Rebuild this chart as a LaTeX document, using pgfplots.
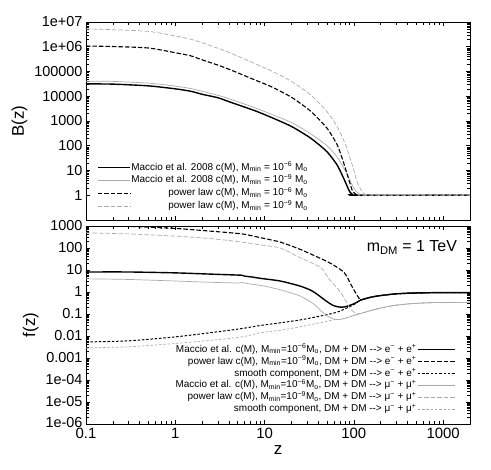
\documentclass[border=0pt]{standalone}
\usepackage{fontspec}
\setmainfont{Liberation Sans}
\usepackage{pgfplots}
\pgfplotsset{compat=1.18}

\definecolor{lgray}{RGB}{170,170,170}
\newcommand{\arr}{-\kern0pt-\kern0pt>}
\newcommand{\Mmin}{M\textsubscript{min}}

\pgfplotsset{
  panel/.style={
    scale only axis, width=384bp, height=198bp,
    xmin=0.1, xmax=2000,
    xtick={0.1,1,10,100,1000},
    /pgf/number format/assume math mode=true,
    tick label style={font=\fontsize{15}{15}\selectfont},
    yticklabel style={font=\fontsize{14.5}{14.5}\selectfont},
    xticklabel style={yshift=-1pt},
    label style={font=\fontsize{17}{17}\selectfont},
    axis line style={line width=0.8pt},
    every tick/.style={black, line width=0.6pt},
    legend style={draw=none, fill=none, font=\fontsize{10}{10}\selectfont,
      nodes={inner sep=0.5pt, text height=8pt, text depth=2.5pt}},
    legend cell align=right,
  },
  msol/.style={black, line width=1.4pt, smooth, tension=0.4},
  gsol/.style={lgray, line width=0.7pt, smooth, tension=0.4},
  mdash/.style={black, line width=1.1pt, dash pattern=on 4.5bp off 2bp, smooth, tension=0.4},
  gdash/.style={lgray, line width=0.7pt, dash pattern=on 4.5bp off 2bp, smooth, tension=0.4},
  mdot/.style={black, line width=1pt, dash pattern=on 2.5bp off 1.8bp, smooth, tension=0.4},
  gdot/.style={lgray, line width=0.7pt, dash pattern=on 2.5bp off 1.8bp, smooth, tension=0.4},
}

\begin{document}
\begin{tikzpicture}

% upper panel: B(z)
\begin{loglogaxis}[panel, name=top, at={(0,0)}, anchor=north west,
  ymin=0.1, ymax=1e7,
  ytick={1,10,100,1000,10000,100000,1e6,1e7},
  yticklabels={1,10,100,1000,10000,100000,1e+06,1e+07},
  xticklabels={},
  ylabel={B(z)},
  legend style={at={(0.02,0.03)}, anchor=south west, row sep=1.5pt},
  legend plot pos=left,
  legend image code/.code={\draw[#1] (0cm,0cm) -- (1.15cm,0cm);},
]
\addplot[msol] coordinates {(0.1,31623) (0.2,30903) (0.5,26303) (1,19953) (1.5,15849) (2,12023) (3,8710) (4,6026) (6,3631) (8,2512) (12,1380) (20,603) (33,200) (50,57.5) (65,16.6) (77,4.79) (85,2.14) (90,1.38) (96,1.10) (105,1) (2000,1)};
\addlegendentry{Maccio et al. 2008 c(M), \Mmin{} = 10\textsuperscript{−6} M\textsubscript{o}}
\addplot[gsol] coordinates {(0.1,40738) (0.2,39811) (0.5,33884) (1,25704) (1.5,20417) (2,15849) (3,10965) (4,7943) (6,4786) (8,3311) (12,1862) (20,871) (33,302) (50,100) (65,35.5) (81,8.9) (90,4.17) (96,2.57) (105,1.51) (114,1.17) (122,1.05) (130,1) (2000,1)};
\addlegendentry{Maccio et al. 2008 c(M), \Mmin{} = 10\textsuperscript{−9} M\textsubscript{o}}
\addplot[mdash] coordinates {(0.1,1.07e6) (0.2,1.02e6) (0.5,8.91e5) (1,5.75e5) (1.5,4.27e5) (2,2.95e5) (3,1.82e5) (4,1.23e5) (6,6.76e4) (8,4.37e4) (12,2.40e4) (20,9120) (33,2455) (50,513) (65,110) (74,30.9) (85,6.46) (96,1.58) (105,1.12) (115,1) (2000,1)};
\addlegendentry{power law c(M), \Mmin{} = 10\textsuperscript{−6} M\textsubscript{o}}
\addplot[gdash] coordinates {(0.1,5.25e6) (0.2,4.90e6) (0.5,4.17e6) (1,2.75e6) (1.5,2.0e6) (2,1.45e6) (3,8.71e5) (4,5.89e5) (6,3.16e5) (8,2.0e5) (12,1.05e5) (20,3.98e4) (33,1.12e4) (50,2399) (65,589) (81,107) (96,16.6) (109,3.47) (124,1.38) (133,1.10) (141,1) (2000,1)};
\addlegendentry{power law c(M), \Mmin{} = 10\textsuperscript{−9} M\textsubscript{o}}
\end{loglogaxis}

% lower panel: f(z)
\begin{loglogaxis}[panel, name=bot, at={(0,-204bp)}, anchor=north west,
  ymin=1e-6, ymax=1000,
  ytick={1e-6,1e-5,1e-4,0.001,0.01,0.1,1,10,100,1000},
  yticklabels={\raisebox{3pt}{1e-06},1e-05,1e-04,0.001,0.01,0.1,1,10,100,1000},
  xticklabels={0.1,1,10,100,1000},
  xlabel={z}, ylabel={f(z)},
  legend style={at={(0.97,0.035)}, anchor=south east, row sep=0.5pt},
  legend plot pos=right,
  legend image code/.code={\draw[#1] (0cm,0cm) -- (1.3cm,0cm);},
]
\addplot[msol] coordinates {(0.1,8.13) (0.3,8.13) (1,7.41) (2.6,6.46) (5,5.89) (5.6,5.75) (6,5.25) (7.3,4.79) (9,4.17) (15,3.16) (25,1.86) (33,1.20) (39,0.776) (45,0.501) (50.6,0.355) (58,0.251) (65.6,0.214) (75,0.204) (85,0.229) (97,0.275) (110,0.355) (120,0.437) (150,0.562) (185,0.661) (284,0.813) (437,0.891) (800,0.933) (2000,0.933)};
\addlegendentry{Maccio et al. c(M), \Mmin=10\textsuperscript{−6}M\textsubscript{o}, DM + DM \arr{} e\textsuperscript{−} + e\textsuperscript{+}}
\addplot[mdash] coordinates {(0.1,1047) (0.3,955) (1,776) (2.6,575) (5.6,437) (9,295) (15,186) (25,87.1) (42.6,33.1) (55,20.0) (65.6,12.9) (72,10.0) (78,7.59) (85,4.47) (92.5,2.24) (100,1.26) (110,0.661) (120,0.437) (150,0.562) (185,0.661) (284,0.813) (437,0.891) (800,0.933) (2000,0.933)};
\addlegendentry{power law c(M), \Mmin=10\textsuperscript{−9}M\textsubscript{o}, DM + DM \arr{} e\textsuperscript{−} + e\textsuperscript{+}}
\addplot[mdot] coordinates {(0.1,0.00537) (0.3,0.00603) (1,0.00912) (2.6,0.0145) (5.6,0.0219) (9,0.0302) (15,0.0398) (25,0.0537) (42.6,0.0813) (65.6,0.123) (85,0.195) (101,0.275) (110,0.355) (120,0.437) (150,0.562) (185,0.661) (284,0.813) (437,0.891) (800,0.933) (2000,0.933)};
\addlegendentry{smooth component, DM + DM \arr{} e\textsuperscript{−} + e\textsuperscript{+}}
\addplot[gsol] coordinates {(0.1,3.98) (0.3,3.72) (1,3.16) (2.6,2.75) (5,2.57) (5.6,2.69) (6.5,2.40) (7.3,2.24) (10,1.86) (15,1.26) (25,0.661) (36,0.275) (46,0.107) (57.5,0.0617) (65,0.0562) (72,0.0575) (85,0.0692) (100,0.0871) (120,0.107) (185,0.174) (284,0.245) (437,0.295) (800,0.331) (2000,0.339)};
\addlegendentry{Maccio et al. c(M), \Mmin=10\textsuperscript{−6}M\textsubscript{o}, DM + DM \arr{} μ\textsuperscript{−} + μ\textsuperscript{+}}
\addplot[gdash] coordinates {(0.1,490) (0.3,437) (1,347) (2.6,263) (5.6,186) (9,138) (15,100) (25,36.3) (42.6,12.9) (53,3.80) (71.5,0.933) (92.5,0.162) (110,0.1) (120,0.107) (185,0.174) (284,0.245) (437,0.295) (800,0.331) (2000,0.339)};
\addlegendentry{power law c(M), \Mmin=10\textsuperscript{−9}M\textsubscript{o}, DM + DM \arr{} μ\textsuperscript{−} + μ\textsuperscript{+}}
\addplot[gdot] coordinates {(0.1,0.00288) (0.3,0.00324) (1,0.00457) (2.6,0.00646) (5.6,0.00912) (9,0.0141) (15,0.0182) (25,0.0263) (42.6,0.0407) (60,0.0550) (72,0.0575) (85,0.0692) (100,0.0871) (120,0.107) (185,0.174) (284,0.245) (437,0.295) (800,0.331) (2000,0.339)};
\addlegendentry{smooth component, DM + DM \arr{} μ\textsuperscript{−} + μ\textsuperscript{+}}
\node[anchor=east, font=\fontsize{16}{16}\selectfont] at (rel axis cs:0.975,0.89) {m\textsubscript{DM} = 1 TeV};
\end{loglogaxis}

\path ([xshift=-86bp,yshift=-46bp]bot.south west) rectangle ([xshift=21bp,yshift=22bp]top.north east);
\end{tikzpicture}
\end{document}
